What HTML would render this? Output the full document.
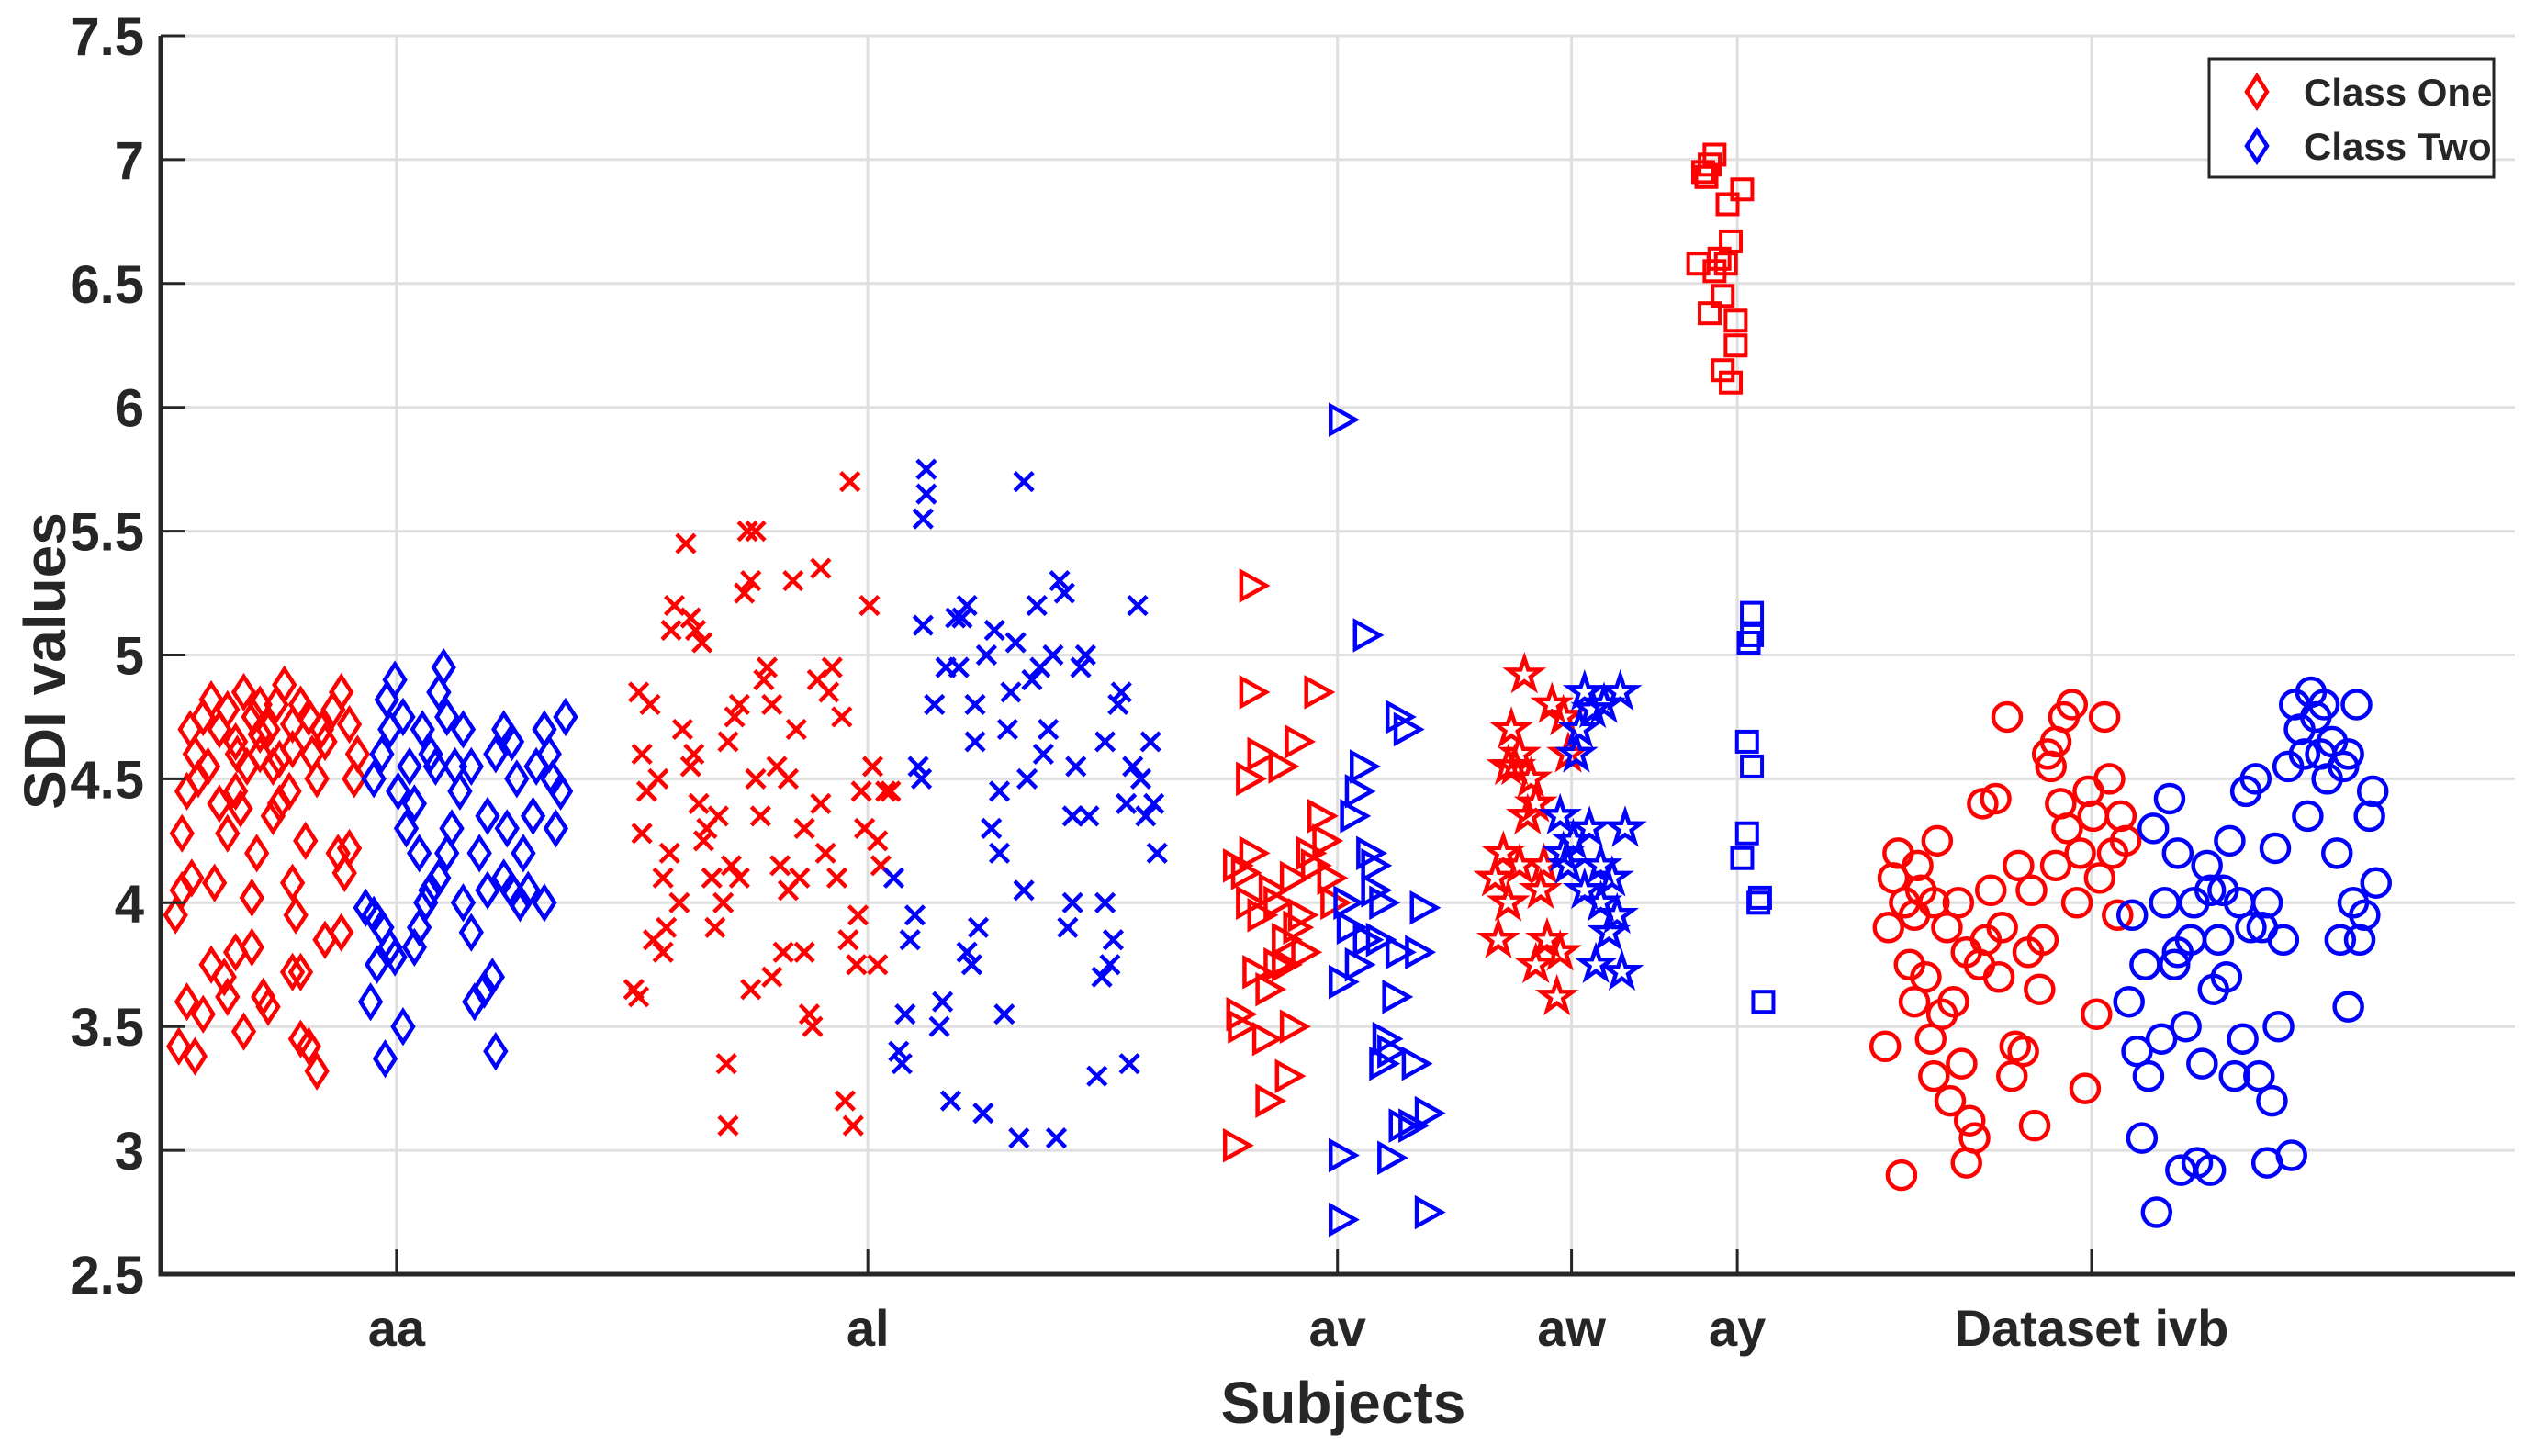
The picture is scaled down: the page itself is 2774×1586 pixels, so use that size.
<!DOCTYPE html>
<html><head><meta charset="utf-8"><style>
body{margin:0;background:#fff}
svg text{font-family:"Liberation Sans",Arial,sans-serif;font-weight:bold;fill:#262626}
</style></head><body>
<svg id="chart" xmlns="http://www.w3.org/2000/svg" width="2774" height="1581" viewBox="0 0 2774 1581">
<g id="grid"></g>
<g id="marks"></g>
<g id="axes"></g>
<g id="legend"></g>
</svg>
<script>
// categories and tick data
const categories=["aa","al","av","aw","ay","Dataset ivb"];
const categoryPos=[244,534,823,967,1069,1287];
const yTicks=[2.5,3,3.5,4,4.5,5,5.5,6,6.5,7,7.5];
const yTickLabels=["2.5","3","3.5","4","4.5","5","5.5","6","6.5","7","7.5"];
// series: [x position, SDI value]
const aaOne=[[110,3.42],[120,3.38],[115,3.6],[125,3.55],[108,3.95],[112,4.05],[118,4.1],[112,4.28],[115,4.45],[120,4.6],[117,4.7],[125,4.75],[130,4.82],[135,4.7],[128,4.55],[122,4.5],[132,4.08],[140,4.28],[130,3.75],[138,3.7],[145,3.8],[150,3.48],[140,3.62],[155,4.02],[148,4.38],[152,4.55],[145,4.65],[140,4.78],[150,4.85],[160,4.6],[165,4.7],[170,4.8],[175,4.88],[168,4.55],[158,4.2],[162,3.62],[165,3.58],[155,3.82],[172,4.4],[180,4.72],[185,4.8],[178,4.45],[185,3.45],[190,3.42],[195,3.32],[180,3.72],[185,3.72],[182,3.95],[180,4.08],[188,4.25],[195,4.5],[200,4.65],[205,4.78],[210,4.85],[208,4.2],[212,4.12],[215,4.22],[200,3.85],[210,3.88],[218,4.5],[220,4.6],[215,4.72],[198,4.7],[192,4.6],[168,4.35],[145,4.45],[135,4.4],[160,4.68],[172,4.58],[190,4.75],[180,4.62],[160,4.8],[146,4.6],[156,4.75]];
const aaTwo=[[225,3.98],[230,3.95],[235,3.9],[240,3.82],[232,3.75],[228,3.6],[237,3.37],[248,3.5],[243,3.78],[255,3.82],[258,3.9],[262,4.0],[265,4.05],[230,4.5],[235,4.6],[240,4.7],[243,4.9],[238,4.82],[248,4.75],[252,4.55],[245,4.45],[255,4.4],[260,4.7],[265,4.6],[270,4.85],[273,4.95],[275,4.75],[280,4.55],[285,4.7],[283,4.45],[278,4.3],[275,4.2],[270,4.1],[285,4.0],[290,3.88],[292,3.6],[298,3.65],[303,3.7],[305,3.4],[295,4.2],[300,4.35],[305,4.6],[310,4.7],[315,4.65],[318,4.5],[312,4.3],[310,4.1],[320,4.0],[325,4.05],[322,4.2],[328,4.35],[330,4.55],[335,4.7],[338,4.6],[340,4.5],[342,4.3],[345,4.45],[348,4.75],[335,4.0],[315,4.05],[300,4.05],[290,4.55],[268,4.55],[258,4.2],[250,4.3]];
const alOne=[[390,3.65],[393,3.62],[395,4.28],[398,4.45],[395,4.6],[393,4.85],[400,4.8],[405,4.5],[402,3.85],[408,3.8],[410,3.9],[408,4.1],[412,4.2],[413,5.1],[415,5.2],[420,4.7],[422,5.45],[425,5.15],[428,5.1],[432,5.05],[427,4.6],[430,4.4],[433,4.25],[435,4.3],[438,4.1],[440,3.9],[442,4.35],[445,4.0],[447,3.35],[448,3.1],[450,4.15],[452,4.75],[455,4.8],[458,5.25],[460,5.5],[465,5.5],[462,5.3],[462,3.65],[465,4.5],[468,4.35],[470,4.9],[472,4.95],[475,4.8],[478,4.55],[475,3.7],[480,4.15],[482,3.8],[485,4.5],[488,5.3],[490,4.7],[492,4.1],[495,3.8],[498,3.55],[500,3.5],[503,4.9],[505,5.35],[508,4.2],[510,4.85],[512,4.95],[515,4.1],[518,4.75],[520,3.2],[522,3.85],[525,3.1],[523,5.7],[527,3.75],[530,4.45],[532,4.3],[535,5.2],[537,4.55],[540,4.25],[542,4.15],[545,4.45],[548,4.45],[540,3.75],[528,3.95],[505,4.4],[495,4.3],[485,4.05],[455,4.1],[418,4.0],[425,4.55],[448,4.65]];
const alTwo=[[550,4.1],[553,3.4],[555,3.35],[557,3.55],[560,3.85],[563,3.95],[565,4.55],[567,4.5],[570,5.75],[570,5.65],[568,5.55],[568,5.12],[575,4.8],[578,3.5],[580,3.6],[582,4.95],[585,3.2],[588,5.15],[590,4.95],[592,5.15],[595,5.2],[595,3.8],[598,3.75],[600,4.8],[602,3.9],[605,3.15],[607,5.0],[610,4.3],[612,5.1],[615,4.45],[618,3.55],[620,4.7],[622,4.85],[625,5.05],[627,3.05],[630,5.7],[632,4.5],[635,4.9],[638,5.2],[640,4.95],[642,4.6],[645,4.7],[648,5.0],[650,3.05],[652,5.3],[655,5.25],[657,3.9],[660,4.35],[662,4.55],[665,4.95],[668,5.0],[670,4.35],[675,3.3],[678,3.7],[680,4.0],[683,3.75],[685,3.85],[688,4.8],[690,4.85],[693,4.4],[695,3.35],[697,4.55],[700,5.2],[702,4.5],[705,4.35],[708,4.65],[710,4.4],[712,4.2],[680,4.65],[660,4.0],[630,4.05],[615,4.2],[600,4.65]];
const avOne=[[760,3.02],[762,3.55],[763,3.5],[760,4.15],[765,4.12],[768,4.0],[768,4.5],[770,5.28],[770,4.85],[772,3.72],[775,4.6],[775,3.95],[778,3.45],[780,3.2],[780,3.65],[782,4.05],[785,3.75],[788,4.55],[790,3.85],[792,3.3],[795,3.5],[795,4.1],[798,4.65],[800,3.95],[802,3.8],[805,4.2],[808,4.15],[810,4.85],[812,4.35],[815,4.25],[818,4.1],[820,4.0],[790,3.75],[785,4.0],[770,4.2],[797,3.9]];
const avTwo=[[825,5.95],[825,2.72],[825,2.98],[825,3.68],[828,4.0],[830,3.9],[832,4.35],[835,4.45],[838,4.55],[840,5.08],[840,3.85],[842,4.2],[845,4.05],[848,3.85],[850,3.35],[852,3.45],[855,3.4],[855,2.97],[858,3.62],[860,4.75],[862,3.1],[865,4.7],[868,3.1],[870,3.35],[872,3.8],[875,3.98],[878,3.15],[878,2.75],[845,4.15],[835,3.75],[860,3.8],[850,4.0]];
const awOne=[[920,4.1],[922,3.85],[925,4.2],[928,4.0],[930,4.7],[932,4.55],[935,4.6],[938,4.92],[940,4.35],[942,4.5],[945,3.75],[945,4.4],[948,4.05],[950,4.15],[952,3.85],[955,4.8],[958,3.62],[960,3.8],[962,4.75],[965,4.6],[935,4.15],[928,4.55]];
const awTwo=[[960,4.35],[962,4.2],[965,4.15],[968,4.25],[970,4.6],[972,4.7],[975,4.85],[978,4.3],[980,4.78],[982,3.75],[985,4.0],[987,4.8],[990,3.88],[992,4.1],[995,3.95],[997,4.85],[1000,4.3],[998,3.72],[985,4.15],[975,4.05]];
const ayOne=[[1048,6.95],[1050,6.93],[1052,6.98],[1055,7.02],[1045,6.58],[1055,6.55],[1058,6.6],[1062,6.58],[1065,6.67],[1072,6.88],[1060,6.45],[1052,6.38],[1068,6.35],[1068,6.25],[1060,6.15],[1065,6.1],[1063,6.82]];
const ayTwo=[[1078,5.17],[1078,5.08],[1076,5.05],[1075,4.65],[1078,4.55],[1075,4.28],[1072,4.18],[1083,4.02],[1082,4.0],[1085,3.6]];
const ivbOne=[[1160,3.42],[1162,3.9],[1165,4.1],[1168,4.2],[1170,2.9],[1172,4.0],[1175,3.75],[1178,3.95],[1180,4.15],[1182,4.05],[1185,3.7],[1188,3.45],[1190,3.3],[1192,4.25],[1195,3.55],[1198,3.9],[1200,3.2],[1202,3.6],[1205,4.0],[1207,3.35],[1210,2.95],[1212,3.12],[1215,3.05],[1218,3.75],[1220,4.4],[1222,3.85],[1225,4.05],[1228,4.42],[1230,3.7],[1232,3.9],[1235,4.75],[1238,3.3],[1240,3.42],[1242,4.15],[1245,3.4],[1248,3.8],[1250,4.05],[1252,3.1],[1255,3.65],[1257,3.85],[1260,4.6],[1262,4.55],[1265,4.65],[1268,4.4],[1270,4.75],[1272,4.3],[1275,4.8],[1278,4.0],[1280,4.2],[1283,3.25],[1285,4.45],[1288,4.35],[1290,3.55],[1292,4.1],[1295,4.75],[1298,4.5],[1300,4.2],[1303,3.95],[1305,4.35],[1308,4.25],[1265,4.15],[1210,3.8],[1190,4.0],[1178,3.6]];
const ivbTwo=[[1310,3.6],[1312,3.95],[1315,3.4],[1318,3.05],[1320,3.75],[1322,3.3],[1325,4.3],[1327,2.75],[1330,3.45],[1332,4.0],[1335,4.42],[1338,3.75],[1340,4.2],[1342,2.92],[1345,3.5],[1348,3.85],[1350,4.0],[1352,2.95],[1355,3.35],[1358,4.15],[1360,2.92],[1362,3.65],[1365,3.85],[1368,4.05],[1370,3.7],[1372,4.25],[1375,3.3],[1378,4.0],[1380,3.45],[1382,4.45],[1385,3.9],[1388,4.5],[1390,3.3],[1392,3.9],[1395,2.95],[1398,3.2],[1400,4.22],[1402,3.5],[1405,3.85],[1408,4.55],[1410,2.98],[1412,4.8],[1415,4.7],[1418,4.6],[1420,4.35],[1422,4.85],[1425,4.75],[1428,4.6],[1430,4.8],[1432,4.5],[1435,4.65],[1438,4.2],[1440,3.85],[1442,4.55],[1445,4.6],[1448,4.0],[1450,4.8],[1452,3.85],[1455,3.95],[1458,4.35],[1460,4.45],[1462,4.08],[1445,3.58],[1340,3.8],[1395,4.0],[1360,4.05]];

const NS="http://www.w3.org/2000/svg";
const L=175,R=2739,T=39,B=1388;
const xs=v=>v*1.770;
const ys=v=>B-(v-2.5)/5*(B-T);
function mk(tag,attrs,parent){const e=document.createElementNS(NS,tag);for(const k in attrs)e.setAttribute(k,attrs[k]);parent.appendChild(e);return e;}
const grid=document.getElementById('grid'),marks=document.getElementById('marks'),axes=document.getElementById('axes'),legend=document.getElementById('legend');

yTicks.forEach((v,i)=>{
  const g=mk('line',{x1:L,x2:R,y1:ys(v),y2:ys(v),stroke:'#dfdfdf','stroke-width':3},grid);
  
  
  const t=mk('line',{x1:L,x2:L+27,y1:ys(v),y2:ys(v),stroke:'#262626','stroke-width':3},axes);
  
  
  const lb=mk('text',{x:157,y:ys(v)+21,'text-anchor':'end','font-size':58},axes);
  lb.textContent=yTickLabels[i];
  
  
});
categories.forEach((c,i)=>{
  const x=xs(categoryPos[i]);
  const g=mk('line',{x1:x,x2:x,y1:T,y2:B,stroke:'#dfdfdf','stroke-width':3},grid);
  
  
  const t=mk('line',{x1:x,x2:x,y1:B,y2:B-27,stroke:'#262626','stroke-width':3},axes);
  
  
  const lb=mk('text',{x:x,y:1466,'text-anchor':'middle','font-size':56},axes);
  lb.textContent=c;
  
  
});
const ax=mk('path',{d:`M${L},${T} V${B} H${R}`,fill:'none',stroke:'#262626','stroke-width':5},axes);


const xt=mk('text',{x:1463,y:1550,'text-anchor':'middle','font-size':64},axes);
xt.textContent='Subjects';


const yt=mk('text',{x:0,y:0,'text-anchor':'middle','font-size':64,transform:'translate(71,720) rotate(-90)'},axes);
yt.textContent='SDI values';



function shape(type,x,y,color,parent){
  const a={fill:'none',stroke:color,'stroke-width':4.5};
  let e;
  if(type==='diamond'){a.points=`${x},${y-17} ${x+11},${y} ${x},${y+17} ${x-11},${y}`;e=mk('polygon',a,parent);}
  else if(type==='x'){a.d=`M${x-10},${y-10}L${x+10},${y+10}M${x-10},${y+10}L${x+10},${y-10}`;e=mk('path',a,parent);}
  else if(type==='tri'){a.points=`${x-11},${y-15} ${x+16},${y} ${x-11},${y+15}`;e=mk('polygon',a,parent);}
  else if(type==='square'){a.x=x-11;a.y=y-11;a.width=22;a.height=22;a['stroke-width']=4;e=mk('rect',a,parent);}
  else if(type==='circle'){a.cx=x;a.cy=y;a.r=15;e=mk('circle',a,parent);}
  else if(type==='star'){let p=[];for(let k=0;k<10;k++){const r=k%2?7:18,ang=-Math.PI/2+k*Math.PI/5;p.push((x+r*Math.cos(ang)).toFixed(1)+','+(y+r*Math.sin(ang)).toFixed(1));}a.points=p.join(' ');e=mk('polygon',a,parent);}
  return e;
}
const seriesList=[[aaOne,'diamond','#ff0000','aa-class-one'],[aaTwo,'diamond','#0000ff','aa-class-two'],[alOne,'x','#ff0000','al-class-one'],[alTwo,'x','#0000ff','al-class-two'],[avOne,'tri','#ff0000','av-class-one'],[avTwo,'tri','#0000ff','av-class-two'],[awOne,'star','#ff0000','aw-class-one'],[awTwo,'star','#0000ff','aw-class-two'],[ayOne,'square','#ff0000','ay-class-one'],[ayTwo,'square','#0000ff','ay-class-two'],[ivbOne,'circle','#ff0000','ivb-class-one'],[ivbTwo,'circle','#0000ff','ivb-class-two']];
seriesList.forEach(s=>{
  const g=mk('g',{},marks);
  
  
  s[0].forEach(p=>{
    const e=shape(s[1],xs(p[0]),ys(p[1]),s[2],g);
    
    
  });
});
// legend
const lb=mk('rect',{x:2406,y:64,width:310,height:129,fill:'#fff',stroke:'#262626','stroke-width':3},legend);


[['Class One','#ff0000',100],['Class Two','#0000ff',159]].forEach(r=>{
  const m=shape('diamond',2458,r[2],r[1],legend);
  
  
  const t=mk('text',{x:2509,y:r[2]+15,'font-size':42,fill:'#000'},legend);
  t.textContent=r[0];
  
  
});
</script>
</body></html>
